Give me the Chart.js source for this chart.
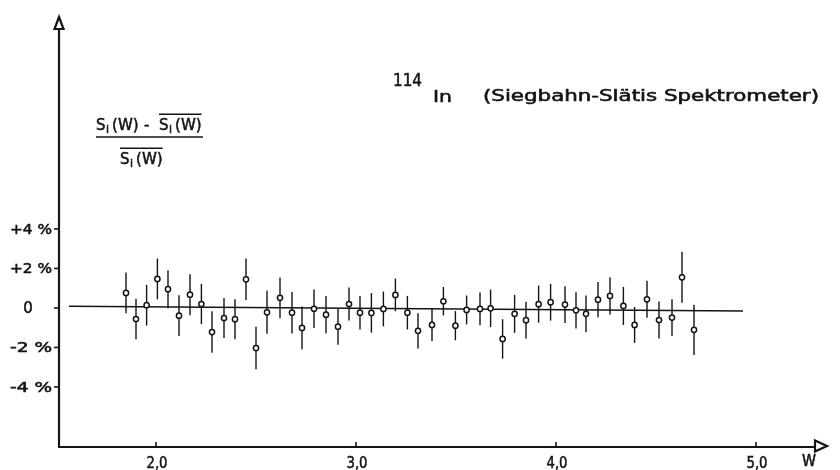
<!DOCTYPE html>
<html>
<head>
<meta charset="utf-8">
<script src="https://cdn.jsdelivr.net/npm/chart.js@4.4.1/dist/chart.umd.min.js"></script>
<style>
  html, body { margin: 0; padding: 0; background: #fff; }
  #wrap { width: 840px; height: 470px; }
</style>
</head>
<body>
<div id="wrap"><canvas id="c" width="840" height="470"></canvas></div>
<script>
// Energy W of each measured point
const energyW = [
  1.85, 1.90, 1.953, 2.007, 2.06, 2.115, 2.17, 2.227, 2.28, 2.34,
  2.395, 2.45, 2.50, 2.555, 2.62, 2.68, 2.73, 2.79, 2.85, 2.91,
  2.965, 3.02, 3.077, 3.137, 3.197, 3.257, 3.31, 3.38, 3.437, 3.497,
  3.553, 3.62, 3.673, 3.733, 3.793, 3.85, 3.913, 3.973, 4.045, 4.10,
  4.15, 4.21, 4.27, 4.337, 4.393, 4.455, 4.515, 4.58, 4.63, 4.69
];
// Relative deviation (s_i(W) - mean) / mean, in percent
const deviationPct = [
  0.76, -0.56, 0.14, 1.47, 0.95, -0.39, 0.67, 0.20, -1.22, -0.51,
  -0.57, 1.45, -2.03, -0.22, 0.51, -0.24, -1.01, -0.04, -0.34, -0.95,
  0.20, -0.24, -0.25, -0.05, 0.66, -0.24, -1.16, -0.86, 0.34, -0.90,
  -0.10, -0.05, -0.02, -1.57, -0.30, -0.62, 0.19, 0.29, 0.17, -0.12,
  -0.30, 0.42, 0.61, 0.10, -0.86, 0.44, -0.61, -0.49, 1.55, -1.11
];
// Statistical error (half length of each bar), in percent
const errorPct = [
  1.03, 1.03, 1.03, 1.03, 0.96, 1.03, 1.04, 1.02, 1.05, 1.01,
  1.01, 1.05, 1.08, 1.09, 1.03, 1.05, 1.08, 0.98, 0.94, 0.91,
  0.83, 0.85, 1.00, 0.88, 0.83, 0.85, 0.89, 0.81, 0.72, 0.74,
  0.73, 0.83, 0.95, 1.00, 0.96, 0.93, 0.94, 0.93, 0.93, 0.92,
  0.93, 0.89, 0.94, 0.96, 0.91, 0.94, 0.94, 0.93, 1.29, 1.27
];
// Straight reference line through the residuals
const fitLineW = [1.565, 4.935];
const fitLineDev = [0.08, -0.15];

const yTickValues = [4, 2, 0, -2, -4];
const yTickLabels = ['+4 %', '+2 %', '0', '-2 %', '-4 %'];
const xTickValues = [2, 3, 4, 5];
const xTickLabels = ['2,0', '3,0', '4,0', '5,0'];

const INK = '#141414';
const FONT = '"DejaVu Sans", sans-serif';

// fill plus a thin outline gives the heavier stencil-lettering stroke
function inkText(ctx, text, x, y) {
  ctx.fillText(text, x, y);
  ctx.strokeText(text, x, y);
}

function fitText(ctx, text, x, baseline, size, targetWidth, align) {
  ctx.font = size + 'px ' + FONT;
  const w = ctx.measureText(text).width;
  const sx = targetWidth ? targetWidth / w : 1;
  const drawW = w * sx;
  let left = x;
  if (align === 'center') left = x - drawW / 2;
  else if (align === 'right') left = x - drawW;
  ctx.save();
  ctx.translate(left, baseline);
  ctx.scale(sx, 1);
  ctx.textAlign = 'left';
  ctx.textBaseline = 'alphabetic';
  ctx.lineWidth = 0.55;
  inkText(ctx, text, 0, 0);
  ctx.restore();
}

// draws "S_i(W)" starting at x; returns the end x
function drawSi(ctx, x, baseline, size, overline) {
  const start = x;
  ctx.save();
  ctx.lineWidth = 0.5;
  ctx.font = size + 'px ' + FONT;
  inkText(ctx, 'S', x, baseline);
  x += ctx.measureText('S').width + 0.5;
  ctx.font = Math.round(size * 0.72) + 'px ' + FONT;
  inkText(ctx, 'i', x, baseline + size * 0.22);
  x += ctx.measureText('i').width + 3;
  ctx.font = size + 'px ' + FONT;
  inkText(ctx, '(W)', x, baseline);
  x += ctx.measureText('(W)').width;
  if (overline) {
    ctx.beginPath();
    ctx.lineWidth = 1.3;
    ctx.moveTo(start, baseline - size * 1.05);
    ctx.lineTo(x, baseline - size * 1.05);
    ctx.stroke();
  }
  ctx.restore();
  return x;
}

const errorBarPlugin = {
  id: 'errorBars',
  beforeDatasetsDraw(chart) {
    const { ctx, scales: { x: xs, y: ys } } = chart;
    ctx.save();
    ctx.strokeStyle = INK;
    ctx.lineWidth = 1.4;
    for (let i = 0; i < energyW.length; i++) {
      const px = xs.getPixelForValue(energyW[i]);
      const top = ys.getPixelForValue(deviationPct[i] + errorPct[i]);
      const bot = ys.getPixelForValue(deviationPct[i] - errorPct[i]);
      ctx.beginPath();
      ctx.moveTo(px, top);
      ctx.lineTo(px, bot);
      ctx.stroke();
    }
    ctx.restore();
  }
};

const axesPlugin = {
  id: 'arrowAxes',
  afterDraw(chart) {
    const { ctx, chartArea: a, scales: { x: xs, y: ys } } = chart;
    ctx.save();
    ctx.strokeStyle = INK;
    ctx.fillStyle = INK;
    ctx.lineWidth = 2.2;
    ctx.lineJoin = 'miter';

    // vertical axis with open arrowhead
    ctx.beginPath();
    ctx.moveTo(a.left, a.bottom);
    ctx.lineTo(a.left, a.top + 12);
    ctx.stroke();
    ctx.beginPath();
    ctx.moveTo(a.left, a.top);
    ctx.lineTo(a.left - 4.5, a.top + 12);
    ctx.lineTo(a.left + 4.5, a.top + 12);
    ctx.closePath();
    ctx.fillStyle = '#fff';
    ctx.fill();
    ctx.stroke();

    // horizontal axis with open arrowhead
    ctx.beginPath();
    ctx.moveTo(a.left - 1, a.bottom);
    ctx.lineTo(a.right - 12, a.bottom);
    ctx.stroke();
    ctx.beginPath();
    ctx.moveTo(a.right, a.bottom - 1);
    ctx.lineTo(a.right - 12, a.bottom - 6.5);
    ctx.lineTo(a.right - 12, a.bottom + 4.5);
    ctx.closePath();
    ctx.fill();
    ctx.stroke();
    ctx.fillStyle = INK;

    // y ticks and labels
    ctx.lineWidth = 1.6;
    yTickValues.forEach((v, i) => {
      const py = ys.getPixelForValue(v);
      ctx.beginPath();
      ctx.moveTo(a.left - 5, py);
      ctx.lineTo(a.left, py);
      ctx.stroke();
      const lbl = yTickLabels[i];
      if (lbl === '0') fitText(ctx, lbl, 28, py + 5.5, 15, 0, 'center');
      else fitText(ctx, lbl, 52, py + 5, 14, 42, 'right');
    });

    // x ticks and labels
    ctx.lineWidth = 1.6;
    xTickValues.forEach((v, i) => {
      const px = xs.getPixelForValue(v);
      ctx.beginPath();
      ctx.moveTo(px, a.bottom - 5);
      ctx.lineTo(px, a.bottom);
      ctx.stroke();
      fitText(ctx, xTickLabels[i], px + 1, 468, 16, 21, 'center');
    });
    fitText(ctx, 'W', 809, 466, 15, 14, 'center');

    // title
    fitText(ctx, '114', 393, 86, 17, 29, 'left');
    fitText(ctx, 'In', 433, 102, 16, 19, 'left');
    fitText(ctx, '(Siegbahn-Sl\u00e4tis Spektrometer)', 483, 101, 15, 336, 'left');

    // fraction label on the y axis
    const size = 15;
    drawSi(ctx, 96, 130, size, false);
    ctx.save();
    ctx.font = size + 'px ' + FONT;
    ctx.lineWidth = 0.5;
    inkText(ctx, '-', 144, 130);
    ctx.restore();
    drawSi(ctx, 159, 130, size, true);
    // fraction bar
    ctx.lineWidth = 1.5;
    ctx.beginPath();
    ctx.moveTo(96, 137);
    ctx.lineTo(203, 137);
    ctx.stroke();
    // denominator
    drawSi(ctx, 120, 164, size, true);

    ctx.restore();
  }
};

const points = energyW.map((w, i) => ({ x: w, y: deviationPct[i] }));
const linePts = fitLineW.map((w, i) => ({ x: w, y: fitLineDev[i] }));

new Chart(document.getElementById('c'), {
  type: 'scatter',
  data: {
    datasets: [
      {
        data: points,
        pointRadius: 2.6,
        pointBorderWidth: 1.5,
        pointBackgroundColor: '#fff',
        pointBorderColor: INK
      },
      {
        type: 'line',
        data: linePts,
        borderColor: INK,
        borderWidth: 1.5,
        pointRadius: 0,
        fill: false
      }
    ]
  },
  options: {
    responsive: false,
    animation: false,
    devicePixelRatio: 1,
    layout: { padding: { left: 59, right: 13, top: 17, bottom: 23 } },
    plugins: { legend: { display: false }, tooltip: { enabled: false } },
    scales: {
      x: { type: 'linear', min: 1.515, max: 5.355, display: false },
      y: { type: 'linear', min: -7.04, max: 14.73, display: false }
    }
  },
  plugins: [errorBarPlugin, axesPlugin]
});
</script>
</body>
</html>
